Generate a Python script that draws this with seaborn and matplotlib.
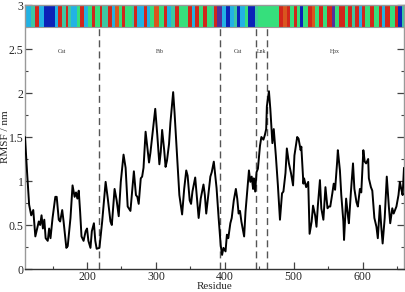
import numpy as np
import pandas as pd
import matplotlib
matplotlib.use("Agg")
import matplotlib.pyplot as plt
from matplotlib.ticker import MultipleLocator, FuncFormatter
import seaborn as sns

# ---- data ----
residue = [110, 113, 116, 119, 122, 125, 130, 132, 134, 136, 138, 140, 143, 145, 147, 150,
           154, 156, 159, 161, 164, 166, 170, 172, 176, 179, 182, 184, 186, 188, 190, 192,
           195, 198, 200, 202, 205, 207, 210, 212, 214, 218, 222, 227, 230, 234, 236, 240,
           243, 246, 249, 253, 256, 259, 263, 268, 271, 273, 275, 278, 280, 282, 285, 287,
           290, 292, 296, 299, 302, 305, 307, 309, 312, 314, 316, 319, 321, 325, 327, 331,
           334, 338, 341, 344, 346, 349, 351, 353, 357, 360, 362, 365, 369, 371, 373, 376,
           379, 381, 384, 388, 391, 394, 396, 398, 401, 403, 405, 408, 410, 413, 416, 418,
           420, 422, 424, 428, 430, 432, 435, 437, 439, 441, 442, 444, 446, 448, 451, 453,
           456, 458, 460, 461, 464, 466, 469, 471, 474, 477, 480, 483, 485, 488, 490, 493,
           496, 499, 501, 505, 507, 510, 511, 514, 515, 518, 521, 523, 526, 528, 531, 533,
           535, 538, 540, 543, 546, 549, 551, 553, 556, 558, 560, 563, 564, 567, 569, 572,
           573, 576, 579, 580, 583, 586, 588, 591, 593, 596, 598, 601, 603, 605, 608, 609,
           612, 614, 617, 620, 622, 625, 627, 629, 632, 635, 638, 640, 643, 645, 647, 649,
           652, 654, 656, 658, 660]
rmsf = [1.50, 1.10, 0.73, 0.61, 0.67, 0.37, 0.54, 0.50, 0.61, 0.46, 0.56, 0.35, 0.32, 0.46, 0.35, 0.58,
        0.82, 0.82, 0.56, 0.54, 0.67, 0.54, 0.24, 0.26, 0.58, 0.95, 0.82, 0.87, 0.80, 0.89, 0.65, 0.37,
        0.32, 0.43, 0.46, 0.32, 0.24, 0.43, 0.52, 0.32, 0.23, 0.24, 0.54, 0.99, 0.81, 0.54, 0.50, 0.91,
        0.78, 0.60, 0.99, 1.30, 1.15, 0.71, 0.66, 1.11, 0.84, 0.82, 0.74, 1.03, 1.05, 1.15, 1.56, 1.42,
        1.21, 1.32, 1.61, 1.82, 1.52, 1.19, 1.33, 1.58, 1.35, 1.16, 1.23, 1.42, 1.66, 2.01, 1.78, 1.25,
        0.84, 0.62, 0.91, 1.12, 1.06, 0.78, 0.74, 0.88, 1.04, 0.76, 0.58, 0.80, 0.96, 0.84, 0.63, 0.84,
        1.05, 1.10, 1.22, 0.92, 0.58, 0.27, 0.16, 0.24, 0.20, 0.39, 0.35, 0.52, 0.58, 0.78, 0.91, 0.80,
        0.63, 0.66, 0.54, 0.37, 0.65, 0.84, 1.12, 0.99, 1.05, 0.91, 1.03, 0.88, 1.10, 1.14, 1.40, 1.50,
        1.47, 1.52, 1.59, 1.85, 2.02, 1.82, 1.43, 1.59, 1.29, 0.95, 0.56, 0.86, 0.88, 1.09, 1.37, 1.20,
        1.09, 0.95, 1.29, 1.50, 1.48, 1.35, 1.39, 0.97, 1.03, 0.93, 0.99, 0.40, 0.54, 0.72, 0.61, 0.48,
        0.72, 1.01, 0.69, 0.56, 0.93, 0.69, 0.71, 0.71, 0.86, 0.97, 0.90, 1.22, 1.35, 1.12, 0.84, 0.54,
        0.33, 0.80, 0.58, 0.52, 0.88, 1.20, 0.91, 0.76, 0.71, 0.91, 0.87, 1.35, 1.22, 1.20, 1.25, 1.03,
        0.93, 0.89, 0.58, 0.48, 0.35, 0.72, 0.48, 0.29, 0.58, 1.05, 0.71, 0.52, 0.69, 0.63, 0.67, 0.71,
        0.84, 0.99, 0.91, 0.84, 1.15]

# domain boundaries and labels
boundaries = [217, 393, 445, 461]
domain_names = ["Cat", "Fib", "Cat", "Lnk", "Hpx"]
domain_centers = [164, 305, 419, 453, 560]

# secondary-structure colour strip: stripe start residues and codes
stripe_start = [110, 118, 124, 130, 137, 154, 158, 163, 169, 173, 177, 185, 190, 195, 202, 207,
                212, 219, 222, 231, 236, 241, 246, 251, 255, 265, 268, 272, 282, 287, 292, 297,
                304, 311, 316, 322, 328, 333, 347, 352, 357, 362, 369, 374, 381, 384, 388, 396,
                401, 408, 413, 417, 422, 429, 434, 444, 448, 478, 485, 490, 495, 500, 504, 509,
                514, 521, 526, 531, 536, 543, 548, 555, 560, 565, 575, 579, 584, 589, 594, 599,
                603, 611, 616, 623, 628, 632, 640, 647, 652, 657]
stripe_code = ["C", "T", "R", "C", "B", "C", "R", "T", "R", "T", "C", "G", "R", "C", "G", "R",
               "G", "R", "T", "R", "C", "O", "G", "R", "G", "T", "R", "C", "R", "C", "G", "O",
               "G", "R", "C", "T", "R", "G", "R", "C", "R", "G", "R", "G", "T", "R", "P", "C",
               "B", "C", "T", "B", "C", "G", "B", "T", "G", "R", "O", "R", "G", "R", "G", "B",
               "G", "R", "O", "G", "R", "G", "R", "P", "G", "R", "G", "R", "T", "R", "C", "R",
               "G", "R", "G", "R", "C", "R", "G", "R", "B", "T"]
code_colors = {"B": "#0b22b8", "C": "#22b2e4", "T": "#3dc8a2", "G": "#36df7c",
               "R": "#d2261b", "O": "#d9561e", "P": "#55309a"}

x_min, x_max = 110, 660
strip_bottom, y_top = 2.75, 3.0

# ---- figure ----
sns.set_theme(style="ticks")
plt.rcParams["font.family"] = ["Liberation Serif", "DejaVu Serif"]

fig = plt.figure(figsize=(4.06, 2.92), dpi=100)
ax = fig.add_axes([25 / 406, 23 / 292, 379 / 406, 264 / 292])

df = pd.DataFrame({"Residue": residue, "RMSF": rmsf})
sns.lineplot(data=df, x="Residue", y="RMSF", ax=ax, color="black", lw=1.4,
             estimator=None, sort=False, zorder=3)

# colour strip
starts = np.array(stripe_start, dtype=float)
ends = np.append(starts[1:], x_max)
ax.bar(starts, y_top - strip_bottom, width=ends - starts, bottom=strip_bottom, align="edge",
       color=[code_colors[c] for c in stripe_code], linewidth=0, zorder=2)
ax.axhline(strip_bottom, color="#9a9a9a", lw=0.8, zorder=2)

# domain boundaries
ax.vlines(boundaries, 0, strip_bottom, colors="#555555", linestyles=(0, (5, 3)), lw=1.0, zorder=1)
for name, c in zip(domain_names, domain_centers):
    ax.text(c, 2.47, name, ha="center", va="center", fontsize=4.2, color="#333333")

ax.set_xlim(x_min, x_max)
ax.set_ylim(0, y_top)
ax.xaxis.set_major_locator(MultipleLocator(100))
ax.xaxis.set_minor_locator(MultipleLocator(50))
ax.yaxis.set_major_locator(MultipleLocator(0.5))
ax.yaxis.set_minor_locator(MultipleLocator(0.25))
ax.yaxis.set_major_formatter(FuncFormatter(lambda v, p: f"{v:g}"))
ax.tick_params(which="both", direction="in", right=True, top=False, labelsize=8.5, pad=2,
               color="#444444")
ax.tick_params(axis="y", which="major", pad=1.2)
ax.tick_params(axis="x", which="major", pad=1.5)
ax.tick_params(which="major", length=5, width=0.9)
ax.tick_params(which="minor", length=2.5, width=0.8)
for side in ["left", "right", "top"]:
    ax.spines[side].set_color("#999999")
    ax.spines[side].set_linewidth(1.0)
ax.spines["bottom"].set_color("#333333")
ax.spines["bottom"].set_linewidth(1.0)

ax.set_xlabel("Residue", fontsize=8, labelpad=-1)
ax.set_ylabel("RMSF / nm", fontsize=8)
ax.yaxis.set_label_coords(-0.040, 0.5)

fig.savefig("out.png", dpi=100)
